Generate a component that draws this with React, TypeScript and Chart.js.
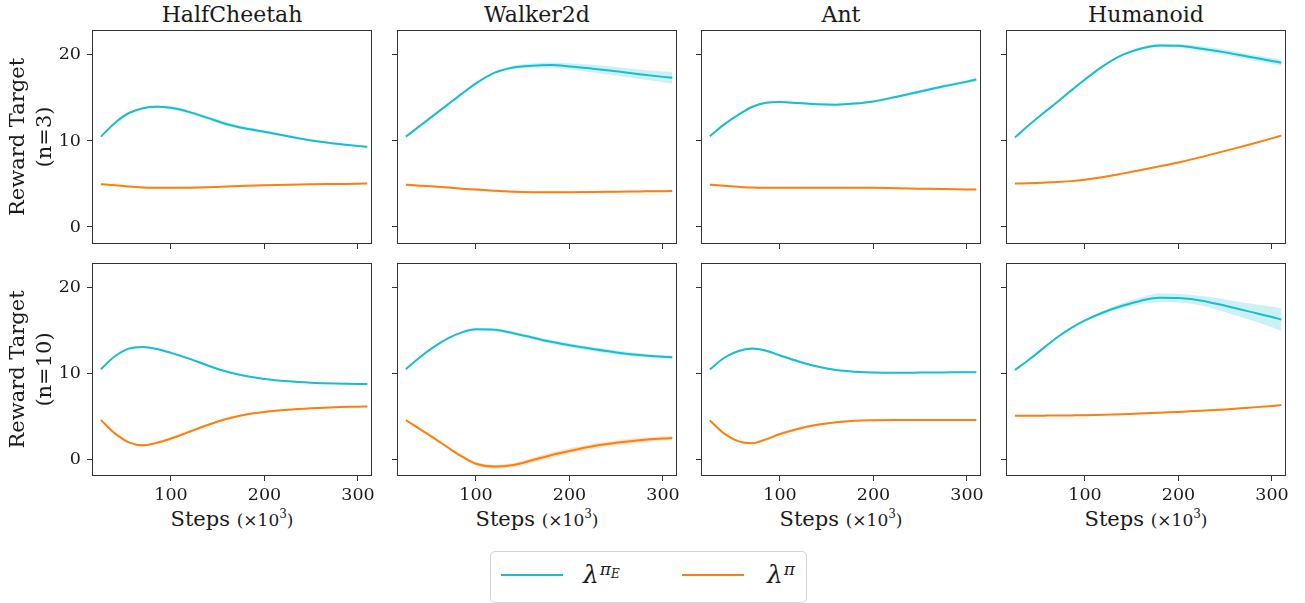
import React, { useEffect, useRef } from "react";
import { Chart, registerables } from "chart.js";
Chart.register(...registerables);

// ---------- data ----------
const steps = [25, 40, 55, 70, 85, 100, 120, 140, 160, 180, 200, 225, 250, 275, 300, 310];
const xTicks = [100, 200, 300];
const yTicks = [0, 10, 20];
const envTitles = ["HalfCheetah", "Walker2d", "Ant", "Humanoid"];
const rowLabels = [["Reward Target", "(n=3)"], ["Reward Target", "(n=10)"]];
const xLabelMain = "Steps";
const xLabelUnit = "(×10";
const xLabelExp = "3";

// n=3
const hc3E = [10.5, 12.1, 13.25, 13.8, 13.97, 13.85, 13.35, 12.65, 11.95, 11.45, 11.07, 10.55, 10.05, 9.7, 9.42, 9.33];
const hc3ESd = [0.05, 0.08, 0.1, 0.12, 0.15, 0.18, 0.2, 0.22, 0.22, 0.2, 0.18, 0.15, 0.12, 0.1, 0.08, 0.08];
const hc3P = [4.97, 4.85, 4.7, 4.6, 4.55, 4.55, 4.57, 4.62, 4.7, 4.78, 4.85, 4.92, 4.97, 5.0, 5.03, 5.05];
const hc3PSd = [0.05, 0.06, 0.08, 0.1, 0.1, 0.1, 0.1, 0.1, 0.1, 0.08, 0.08, 0.06, 0.05, 0.05, 0.05, 0.05];

const wk3E = [10.5, 11.75, 13.0, 14.25, 15.5, 16.7, 17.95, 18.55, 18.75, 18.82, 18.67, 18.4, 18.1, 17.75, 17.45, 17.35];
const wk3ESd = [0.05, 0.08, 0.1, 0.1, 0.1, 0.1, 0.12, 0.2, 0.25, 0.3, 0.35, 0.45, 0.5, 0.55, 0.62, 0.67];
const wk3P = [4.92, 4.8, 4.7, 4.58, 4.45, 4.35, 4.2, 4.1, 4.05, 4.04, 4.05, 4.07, 4.1, 4.13, 4.16, 4.17];
const wk3PSd = [0.08, 0.1, 0.12, 0.12, 0.12, 0.12, 0.1, 0.1, 0.08, 0.08, 0.08, 0.08, 0.08, 0.08, 0.08, 0.08];

const ant3E = [10.55, 11.9, 13.0, 13.95, 14.45, 14.52, 14.4, 14.27, 14.22, 14.35, 14.6, 15.15, 15.75, 16.35, 16.9, 17.15];
const ant3ESd = [0.05, 0.08, 0.1, 0.12, 0.12, 0.12, 0.12, 0.12, 0.12, 0.12, 0.14, 0.15, 0.16, 0.18, 0.2, 0.2];
const ant3P = [4.92, 4.78, 4.67, 4.58, 4.55, 4.55, 4.56, 4.57, 4.57, 4.56, 4.55, 4.5, 4.45, 4.4, 4.36, 4.35];
const ant3PSd = [0.05, 0.06, 0.08, 0.08, 0.08, 0.08, 0.08, 0.08, 0.08, 0.08, 0.08, 0.08, 0.08, 0.08, 0.08, 0.08];

const hum3E = [10.4, 11.85, 13.2, 14.5, 15.85, 17.15, 18.75, 20.0, 20.75, 21.1, 21.06, 20.72, 20.3, 19.8, 19.3, 19.1];
const hum3ESd = [0.05, 0.06, 0.08, 0.08, 0.1, 0.1, 0.1, 0.12, 0.18, 0.2, 0.22, 0.28, 0.3, 0.32, 0.35, 0.36];
const hum3P = [5.04, 5.09, 5.15, 5.22, 5.33, 5.5, 5.8, 6.2, 6.62, 7.05, 7.5, 8.15, 8.85, 9.55, 10.3, 10.62];
const hum3PSd = [0.05, 0.05, 0.06, 0.06, 0.07, 0.08, 0.08, 0.08, 0.08, 0.08, 0.08, 0.08, 0.08, 0.08, 0.08, 0.08];

// n=10
const hc10E = [10.5, 12.0, 12.9, 13.1, 12.85, 12.4, 11.7, 10.9, 10.2, 9.7, 9.35, 9.08, 8.92, 8.83, 8.78, 8.77];
const hc10ESd = [0.05, 0.08, 0.1, 0.1, 0.1, 0.12, 0.12, 0.12, 0.12, 0.1, 0.1, 0.08, 0.08, 0.06, 0.06, 0.06];
const hc10P = [4.55, 3.0, 1.95, 1.6, 1.9, 2.4, 3.2, 4.0, 4.7, 5.2, 5.5, 5.75, 5.92, 6.05, 6.12, 6.15];
const hc10PSd = [0.05, 0.08, 0.1, 0.12, 0.14, 0.15, 0.15, 0.15, 0.12, 0.1, 0.1, 0.08, 0.08, 0.06, 0.06, 0.06];

const wk10E = [10.5, 11.9, 13.1, 14.1, 14.8, 15.15, 15.1, 14.7, 14.2, 13.7, 13.3, 12.85, 12.45, 12.15, 11.95, 11.9];
const wk10ESd = [0.05, 0.08, 0.1, 0.1, 0.12, 0.14, 0.16, 0.18, 0.2, 0.22, 0.24, 0.25, 0.25, 0.22, 0.2, 0.2];
const wk10P = [4.55, 3.5, 2.45, 1.35, 0.3, -0.55, -0.88, -0.7, -0.15, 0.45, 0.95, 1.5, 1.9, 2.2, 2.4, 2.45];
const wk10PSd = [0.05, 0.1, 0.12, 0.15, 0.18, 0.2, 0.22, 0.25, 0.28, 0.3, 0.3, 0.3, 0.28, 0.26, 0.25, 0.25];

const ant10E = [10.45, 11.8, 12.6, 12.9, 12.65, 12.1, 11.4, 10.8, 10.4, 10.2, 10.1, 10.08, 10.1, 10.12, 10.15, 10.15];
const ant10ESd = [0.05, 0.08, 0.1, 0.12, 0.14, 0.15, 0.15, 0.12, 0.1, 0.08, 0.08, 0.06, 0.06, 0.06, 0.06, 0.06];
const ant10P = [4.5, 3.0, 2.1, 1.85, 2.3, 2.93, 3.55, 4.0, 4.3, 4.47, 4.53, 4.56, 4.57, 4.57, 4.57, 4.57];
const ant10PSd = [0.05, 0.08, 0.1, 0.12, 0.15, 0.15, 0.15, 0.12, 0.1, 0.08, 0.06, 0.05, 0.05, 0.05, 0.05, 0.05];

const hum10E = [10.4, 11.6, 12.9, 14.2, 15.3, 16.2, 17.15, 17.9, 18.5, 18.85, 18.8, 18.5, 17.9, 17.25, 16.6, 16.3];
const hum10ESd = [0.05, 0.06, 0.08, 0.1, 0.1, 0.1, 0.2, 0.3, 0.4, 0.5, 0.5, 0.55, 0.75, 0.95, 1.2, 1.35];
const hum10P = [5.05, 5.06, 5.07, 5.08, 5.1, 5.12, 5.17, 5.24, 5.32, 5.42, 5.5, 5.65, 5.8, 6.0, 6.2, 6.3];
const hum10PSd = [0.04, 0.04, 0.05, 0.05, 0.05, 0.05, 0.05, 0.05, 0.06, 0.06, 0.06, 0.06, 0.06, 0.06, 0.06, 0.06];

const panels = [
  [hc3E, hc3ESd, hc3P, hc3PSd],
  [wk3E, wk3ESd, wk3P, wk3PSd],
  [ant3E, ant3ESd, ant3P, ant3PSd],
  [hum3E, hum3ESd, hum3P, hum3PSd],
  [hc10E, hc10ESd, hc10P, hc10PSd],
  [wk10E, wk10ESd, wk10P, wk10PSd],
  [ant10E, ant10ESd, ant10P, ant10PSd],
  [hum10E, hum10ESd, hum10P, hum10PSd],
];

// ---------- style / layout ----------
const CYAN = "#17becf";
const ORANGE = "#ff7f0e";
const FONT = "'DejaVu Serif', serif";
const TXT = "#1a1a1a";
const AXIS = "#333333";
const X_MIN = 15.5;
const X_MAX = 315;
const Y_MIN = -1.98;
const Y_MAX = 22.9;
const TICK_SIZE = 17.5;
const LABEL_SIZE = 21;
const TITLE_SIZE = 22;

const colLefts = [92, 397, 701, 1006];
const plotW = 280;
const rowTops = [30, 263];
const plotH = [214, 213];
const xAxisH = [10, 30];
const PAD_TOP = 5;
const PAD_RIGHT = 8;

const boxPlugin = {
  id: "boxFrame",
  afterDraw(chart: any) {
    const { ctx, chartArea } = chart;
    const { left, top, right, bottom } = chartArea;
    ctx.save();
    ctx.strokeStyle = AXIS;
    ctx.lineWidth = 1;
    ctx.strokeRect(Math.round(left) + 0.5, Math.round(top) + 0.5, Math.round(right - left) - 1, Math.round(bottom - top) - 1);
    ctx.restore();
  },
};

function Panel({ row, col }: { row: number; col: number }) {
  const ref = useRef<HTMLCanvasElement>(null);
  const yW = col === 0 ? 92 : 14;
  const left = colLefts[col] - yW;
  const top = rowTops[row] - PAD_TOP;
  const width = yW + plotW + PAD_RIGHT;
  const height = PAD_TOP + plotH[row] + xAxisH[row];

  useEffect(() => {
    const [e, eSd, p, pSd] = panels[row * 4 + col];
    const pts = (ys: number[]) => steps.map((x, i) => ({ x, y: ys[i] }));
    const band = (ys: number[], sd: number[], s: number) => steps.map((x, i) => ({ x, y: ys[i] + s * sd[i] }));
    const common = { pointRadius: 0, cubicInterpolationMode: "monotone" as const };
    const chart = new Chart(ref.current!, {
      type: "line",
      data: {
        datasets: [
          { ...common, data: band(e, eSd, -1), borderWidth: 0, borderColor: "rgba(0,0,0,0)", fill: false, order: 2 },
          { ...common, data: band(e, eSd, 1), borderWidth: 0, borderColor: "rgba(0,0,0,0)", fill: "-1", backgroundColor: "rgba(23,190,207,0.22)", order: 2 },
          { ...common, data: band(p, pSd, -1), borderWidth: 0, borderColor: "rgba(0,0,0,0)", fill: false, order: 2 },
          { ...common, data: band(p, pSd, 1), borderWidth: 0, borderColor: "rgba(0,0,0,0)", fill: "-1", backgroundColor: "rgba(255,127,14,0.22)", order: 2 },
          { ...common, data: pts(e), borderColor: CYAN, borderWidth: 2, fill: false, order: 0 },
          { ...common, data: pts(p), borderColor: ORANGE, borderWidth: 2, fill: false, order: 1 },
        ],
      },
      options: {
        animation: false,
        responsive: false,
        maintainAspectRatio: false,
        layout: { padding: { top: PAD_TOP, right: PAD_RIGHT, left: 0, bottom: 0 } },
        plugins: { legend: { display: false }, tooltip: { enabled: false }, title: { display: false } },
        scales: {
          x: {
            type: "linear",
            min: X_MIN,
            max: X_MAX,
            afterBuildTicks: (s: any) => { s.ticks = xTicks.map((v) => ({ value: v })); },
            afterFit: (s: any) => { s.height = xAxisH[row]; s.paddingLeft = 0; s.paddingRight = 0; },
            grid: { drawOnChartArea: false, drawTicks: true, tickLength: 5, color: AXIS, lineWidth: 1 },
            border: { display: false },
            ticks: { display: row === 1, font: { family: FONT, size: TICK_SIZE }, color: TXT, padding: 4, maxRotation: 0, autoSkip: false },
          },
          y: {
            type: "linear",
            min: Y_MIN,
            max: Y_MAX,
            afterBuildTicks: (s: any) => { s.ticks = yTicks.map((v) => ({ value: v })); },
            afterFit: (s: any) => { s.width = yW; s.paddingTop = 0; s.paddingBottom = 0; },
            grid: { drawOnChartArea: false, drawTicks: true, tickLength: 5, color: AXIS, lineWidth: 1 },
            border: { display: false },
            ticks: { display: col === 0, font: { family: FONT, size: TICK_SIZE }, color: TXT, padding: 6 },
            title: { display: col === 0, text: rowLabels[row], font: { family: FONT, size: LABEL_SIZE, lineHeight: 1.24 }, color: TXT, padding: { top: 6, bottom: 0 } },
          },
        },
      },
      plugins: [boxPlugin],
    } as any);
    return () => chart.destroy();
  }, []);

  return (
    <canvas
      ref={ref}
      width={width}
      height={height}
      style={{ position: "absolute", left, top, width, height }}
    />
  );
}

export default function App() {
  return (
    <div style={{ position: "absolute", left: 0, top: 0, width: 1305, height: 603, background: "#fff", overflow: "hidden", fontFamily: FONT, color: TXT }}>
      {envTitles.map((t, c) => (
        <div key={t} style={{ position: "absolute", left: colLefts[c], top: 2, width: plotW, textAlign: "center", fontSize: TITLE_SIZE, lineHeight: "26px", whiteSpace: "nowrap" }}>
          {t}
        </div>
      ))}
      {[0, 1].map((r) => [0, 1, 2, 3].map((c) => <Panel key={`${r}-${c}`} row={r} col={c} />))}
      {colLefts.map((l, c) => (
        <div key={`xl${c}`} style={{ position: "absolute", left: l, top: 506, width: plotW, textAlign: "center", lineHeight: "26px", whiteSpace: "nowrap" }}>
          <span style={{ fontSize: LABEL_SIZE }}>{xLabelMain} </span>
          <span style={{ fontSize: 17 }}>{xLabelUnit}</span>
          <span style={{ fontSize: 12, position: "relative", top: -8 }}>{xLabelExp}</span>
          <span style={{ fontSize: 17 }}>)</span>
        </div>
      ))}
      <div style={{ position: "absolute", left: 490, top: 551, width: 317, height: 52, boxSizing: "border-box", border: "1px solid #d4d4d4", borderRadius: 5, background: "#fff" }}>
        <div style={{ position: "absolute", left: 10, top: 22, width: 62, height: 2, background: CYAN }} />
        <div style={{ position: "absolute", left: 92, top: 9, height: 28, lineHeight: "28px", whiteSpace: "nowrap" }}>
          <span style={{ fontSize: 25, fontStyle: "italic" }}>λ</span>
          <span style={{ fontSize: 17, fontStyle: "italic", position: "relative", top: -8, marginLeft: 1 }}>π</span>
          <span style={{ fontSize: 12, fontStyle: "italic", position: "relative", top: -5 }}>E</span>
        </div>
        <div style={{ position: "absolute", left: 191, top: 22, width: 62, height: 2, background: ORANGE }} />
        <div style={{ position: "absolute", left: 276, top: 9, height: 28, lineHeight: "28px", whiteSpace: "nowrap" }}>
          <span style={{ fontSize: 25, fontStyle: "italic" }}>λ</span>
          <span style={{ fontSize: 17, fontStyle: "italic", position: "relative", top: -8, marginLeft: 1 }}>π</span>
        </div>
      </div>
    </div>
  );
}
